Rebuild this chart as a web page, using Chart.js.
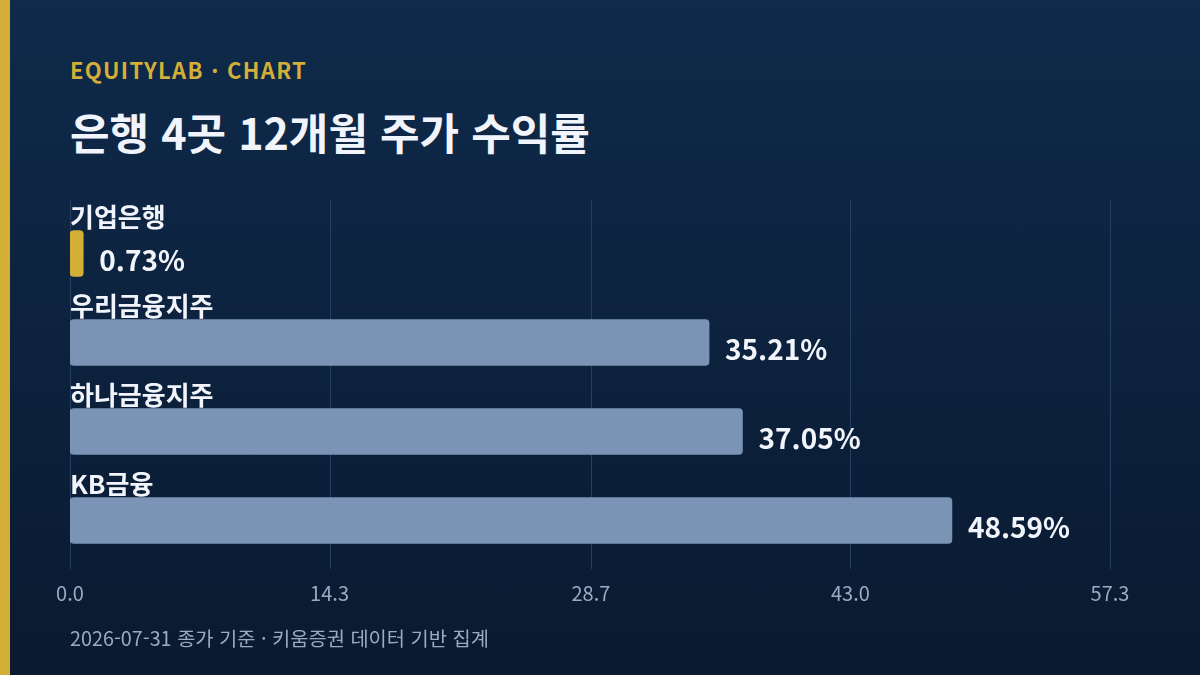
<!DOCTYPE html>
<html lang="ko">
<head>
<meta charset="utf-8">
<script src="https://cdn.jsdelivr.net/npm/chart.js@4.4.1/dist/chart.umd.min.js"></script>
<style>
  html, body { margin: 0; padding: 0; }
  body { width: 1200px; height: 675px; overflow: hidden; font-family: "Noto Sans CJK KR", "Noto Sans", sans-serif; }
  #wrap { position: relative; width: 1200px; height: 675px; background: linear-gradient(180deg, #0f2a4b 0%, #0a1a30 100%); }
  #stripe { position: absolute; left: 0; top: 0; width: 10px; height: 675px; background: #d4af37; }
  #kicker { position: absolute; left: 70px; top: 54px; font-size: 22px; font-weight: 700; color: #d4af37; letter-spacing: 1.3px; line-height: 30px; white-space: nowrap; }
  #title { position: absolute; left: 70px; top: 102px; font-size: 43px; font-weight: 700; color: #f1f4fa; line-height: 58px; letter-spacing: 0px; white-space: nowrap; }
  #foot { position: absolute; left: 70px; top: 624px; font-size: 19.8px; color: #9aabc3; line-height: 28px; white-space: nowrap; }
  #cv { position: absolute; left: 0; top: 0; }
</style>
</head>
<body>
<div id="wrap">
  <div id="stripe"></div>
  <div id="kicker">EQUITYLAB · CHART</div>
  <div id="title">은행 4곳 12개월 주가 수익률</div>
  <canvas id="cv" width="1200" height="675"></canvas>
  <div id="foot">2026-07-31 종가 기준 · 키움증권 데이터 기반 집계</div>
</div>
<script>
const categories = ["기업은행", "우리금융지주", "하나금융지주", "KB금융"];
const returns = [0.73, 35.21, 37.05, 48.59];
const barColors = ["#d4af37", "#7b93b5", "#7b93b5", "#7b93b5"];
const tickValues = [0, 14.3, 28.7, 43.0, 57.3];
const axisMax = 57.3;

const FONT = '"Noto Sans CJK KR", "Noto Sans", sans-serif';

const gridPlugin = {
  id: 'extGrid',
  beforeDatasetsDraw(chart) {
    const { ctx, chartArea, scales } = chart;
    ctx.save();
    ctx.strokeStyle = '#263e60';
    ctx.lineWidth = 1;
    scales.x.ticks.forEach(t => {
      const px = Math.round(scales.x.getPixelForValue(t.value)) + 0.5;
      ctx.beginPath();
      ctx.moveTo(px, chartArea.top - 9);
      ctx.lineTo(px, chartArea.bottom + 4);
      ctx.stroke();
    });
    ctx.restore();
  }
};

const labelPlugin = {
  id: 'barLabels',
  afterDatasetsDraw(chart) {
    const { ctx } = chart;
    const meta = chart.getDatasetMeta(0);
    ctx.save();
    meta.data.forEach((bar, i) => {
      const h = bar.height;
      const top = bar.y - h / 2;
      ctx.fillStyle = '#f1f4fa';
      ctx.font = '700 26px ' + FONT;
      ctx.textAlign = 'left';
      ctx.textBaseline = 'middle';
      ctx.fillText(categories[i], bar.base, top - 13);
      ctx.font = '700 28px ' + FONT;
      ctx.textBaseline = 'alphabetic';
      ctx.fillText(returns[i].toFixed(2) + '%', bar.x + 16, bar.y + 17);
    });
    ctx.restore();
  }
};

new Chart(document.getElementById('cv'), {
  type: 'bar',
  data: {
    labels: categories,
    datasets: [{
      data: returns,
      backgroundColor: barColors,
      borderWidth: 0,
      borderRadius: 4,
      borderSkipped: false,
      barThickness: 46
    }]
  },
  options: {
    indexAxis: 'y',
    responsive: false,
    animation: false,
    devicePixelRatio: 1,
    layout: { padding: { left: 70, right: 90, top: 209, bottom: 54 } },
    plugins: { legend: { display: false }, tooltip: { enabled: false } },
    scales: {
      x: {
        type: 'linear',
        min: 0,
        max: axisMax,
        afterBuildTicks(scale) { scale.ticks = tickValues.map(v => ({ value: v })); },
        grid: { display: false, drawTicks: false },
        border: { display: false },
        ticks: {
          padding: 16,
          color: '#9aabc3',
          font: { family: FONT, size: 20 },
          callback: v => Number(v).toFixed(1),
          maxRotation: 0
        }
      },
      y: { display: false, grid: { display: false } }
    }
  },
  plugins: [gridPlugin, labelPlugin]
});
</script>
</body>
</html>
